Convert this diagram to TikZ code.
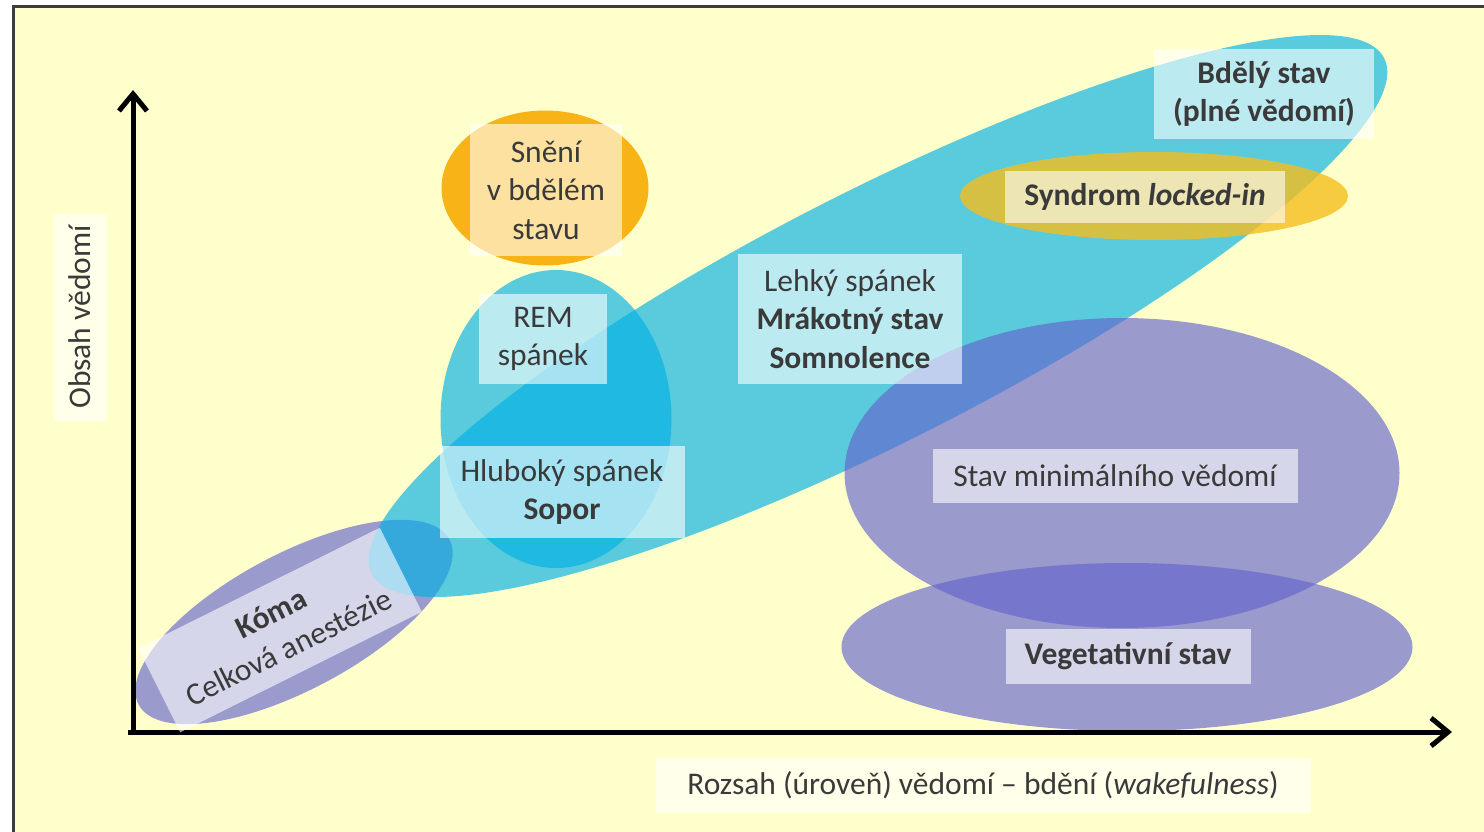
\documentclass[tikz,border=0pt]{standalone}
\usepackage{fontspec}
\setmainfont{Carlito}
\usetikzlibrary{shapes.geometric,arrows.meta}
\definecolor{bg}{RGB}{255,255,204}
\definecolor{cyanf}{RGB}{0,176,230}
\definecolor{purplef}{RGB}{100,100,205}
\definecolor{goldf}{RGB}{245,190,30}
\definecolor{orangef}{RGB}{248,180,22}
\definecolor{txt}{RGB}{58,58,58}
\definecolor{frame}{RGB}{60,60,60}
\tikzset{
  blob/.style={ellipse, inner sep=0pt, draw=none},
  cyanblob/.style={blob, fill=cyanf, fill opacity=0.65},
  purpleblob/.style={blob, fill=purplef, fill opacity=0.65},
  lbox/.style={fill=white, fill opacity=0.6, text opacity=1, text=txt, align=center,
    inner sep=0pt, font=\fontsize{31.5}{38.5}\selectfont},
  axis/.style={line width=5pt, -{Straight Barb[length=17pt,width=28pt]}},
}
\begin{document}
\begin{tikzpicture}[x=1pt,y=-1pt]
\useasboundingbox (0,0) rectangle (1484,832);
\clip (0,0) rectangle (1484,832);
\fill[bg] (13,7) rectangle (1500,850);
\draw[line width=3pt, frame] (13,7) rectangle (1500,850);

% ellipses
\node[purpleblob, minimum width=352pt, minimum height=136pt, rotate=28] (coma) at (294,622) {};
\node[cyanblob, minimum width=1136pt, minimum height=250pt, rotate=27] (big) at (878,316) {};
\node[cyanblob, minimum width=231pt, minimum height=298pt] (rem) at (556,419) {};
\node[purpleblob, minimum width=555pt, minimum height=310pt] (mcs) at (1122,473) {};
\node[purpleblob, minimum width=571pt, minimum height=168pt] (vs) at (1127,647) {};
\node[blob, fill=goldf, fill opacity=0.8, minimum width=388pt, minimum height=88pt] (lis) at (1154,196) {};
\node[blob, fill=orangef, minimum width=207pt, minimum height=155pt] (dream) at (545,188) {};

% axes
\coordinate (origin) at (133,735);
\coordinate (ytip) at (133,90);
\coordinate (xorigin) at (128,732);
\coordinate (xtip) at (1452,732);
\draw[axis] (origin) -- (ytip);
\draw[axis] (xorigin) -- (xtip);

% labels
\node[lbox, minimum width=152pt, minimum height=132pt] (tdream) at (546,190) {Snění\\v bdělém\\stavu};
\node[lbox, minimum width=128pt, minimum height=90pt] (trem) at (543,339) {REM\\spánek};
\node[lbox, minimum width=245pt, minimum height=92pt] (tdeep) at (562,492) {Hluboký spánek\\\textbf{Sopor}};
\node[lbox, minimum width=224pt, minimum height=130pt] (tlight) at (850,319) {Lehký spánek\\\textbf{Mrákotný stav}\\\textbf{Somnolence}};
\node[lbox, minimum width=220pt, minimum height=90pt] (tawake) at (1264,94) {\textbf{Bdělý stav}\\\textbf{(plné vědomí)}};
\node[lbox, minimum width=280pt, minimum height=52pt] (tlis) at (1145,197) {\textbf{Syndrom \textit{locked-in}}};
\node[lbox, minimum width=365pt, minimum height=54pt] (tmcs) at (1115,476) {Stav minimálního vědomí};
\node[lbox, minimum width=245pt, minimum height=55pt] (tvs) at (1128,656) {\textbf{Vegetativní stav}};
\node[lbox, minimum width=270pt, minimum height=94pt, rotate=26.5] (tcoma) at (280,630) {\textbf{Kóma}\\Celková anestézie};
\node[lbox, minimum width=207pt, minimum height=53pt, rotate=90] (ylab) at (80,317) {Obsah vědomí};
\node[lbox, minimum width=655pt, minimum height=55pt] (xlab) at (983,785) {Rozsah (úroveň) vědomí – bdění (\textit{wakefulness})};
\end{tikzpicture}
\end{document}
